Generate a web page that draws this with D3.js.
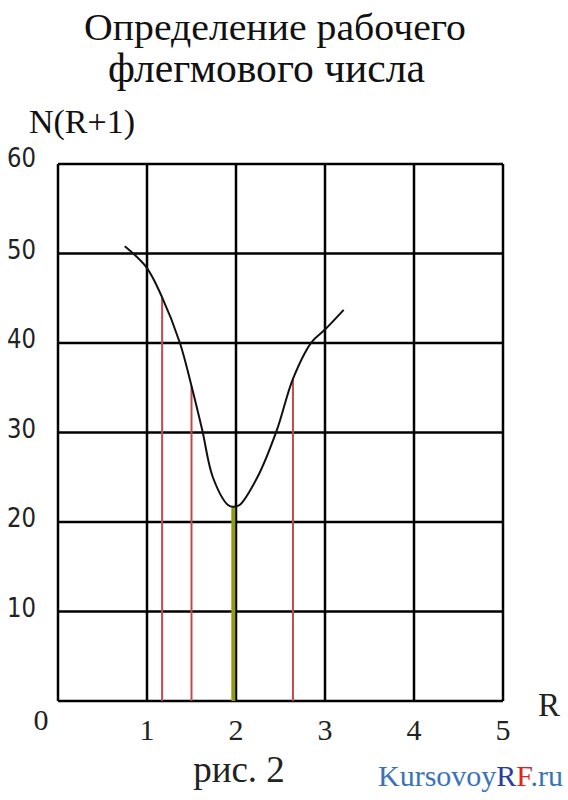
<!DOCTYPE html>
<html><head><meta charset="utf-8">
<script src="https://cdn.jsdelivr.net/npm/d3@7"></script>
<style>body{margin:0;background:#fff}svg{display:block}</style>
</head><body><svg id="c" width="568" height="800"></svg>
<script>
const curveR = [0.75, 0.99, 1.17, 1.37, 1.50, 1.62, 1.74, 1.91, 1.97, 2.04, 2.24, 2.46, 2.64, 2.85, 3.00, 3.21];
const curveN = [50.8, 48.5, 45.1, 40.0, 35.2, 30.3, 25.0, 21.9, 21.7, 21.9, 25.0, 30.3, 36.0, 40.1, 41.5, 43.7];
const redR = [1.17, 1.50, 2.64];
const redN = [45.1, 35.2, 36.0];
const optR = [1.97];
const optN = [21.8];
const xTicks = [0, 1, 2, 3, 4, 5];
const yTicks = [0, 10, 20, 30, 40, 50, 60];
const titleLines = ["Определение рабочего", "флегмового числа"];
const yLabel = "N(R+1)";
const xLabel = "R";
const caption = "рис. 2";
const watermarkParts = ["Kursovoy", "R", "F", ".ru"];

const svg = d3.select("#c");
const L = 58, R = 503, T = 164, B = 701;
const x = d3.scaleLinear().domain([0, 5]).range([L, R]);
const y = d3.scaleLinear().domain([0, 60]).range([B, T]);
const serif = "'Liberation Serif','Times New Roman',serif";

// title
svg.append("text").attr("x", 84).attr("y", 40).attr("font-family", serif).attr("font-size", 37)
  .attr("textLength", 382).attr("lengthAdjust", "spacingAndGlyphs").attr("fill", "#111").text(titleLines[0]);
svg.append("text").attr("x", 108).attr("y", 82).attr("font-family", serif).attr("font-size", 42)
  .attr("textLength", 317).attr("lengthAdjust", "spacingAndGlyphs").attr("fill", "#111").text(titleLines[1]);
svg.append("text").attr("x", 29).attr("y", 133).attr("font-family", serif).attr("font-size", 33)
  .attr("textLength", 106).attr("lengthAdjust", "spacingAndGlyphs").attr("fill", "#111").text(yLabel);

// grid
const g = svg.append("g");
g.selectAll("line.v").data(xTicks).join("line").attr("class", "v")
  .attr("x1", d => x(d)).attr("x2", d => x(d)).attr("y1", T).attr("y2", B)
  .attr("stroke", "#000").attr("stroke-width", 2.5);
g.selectAll("line.h").data(yTicks).join("line").attr("class", "h")
  .attr("x1", L).attr("x2", R).attr("y1", d => y(d)).attr("y2", d => y(d))
  .attr("stroke", "#000").attr("stroke-width", 2.5);

// vertical markers
g.selectAll("line.red").data(redR).join("line").attr("class", "red")
  .attr("x1", d => x(d)).attr("x2", d => x(d)).attr("y1", y(0)).attr("y2", (d, i) => y(redN[i]))
  .attr("stroke", "#c24a4a").attr("stroke-width", 2);
g.selectAll("line.opt").data(optR).join("line").attr("class", "opt")
  .attr("x1", d => x(d)).attr("x2", d => x(d)).attr("y1", y(0)).attr("y2", (d, i) => y(optN[i]))
  .attr("stroke", "#8f9c12").attr("stroke-width", 4);

// curve
const pts = curveR.map((r, i) => [r, curveN[i]]);
svg.append("path").attr("d", d3.line().x(d => x(d[0])).y(d => y(d[1])).curve(d3.curveCatmullRom)(pts))
  .attr("fill", "none").attr("stroke", "#111").attr("stroke-width", 2);

// y tick labels
svg.selectAll("text.yt").data(yTicks.filter(d => d > 0)).join("text").attr("class", "yt")
  .attr("x", 7).attr("y", d => d === 60 ? y(d) - 6.5 : y(d) - 4).attr("dy", "0.36em")
  .attr("font-family", "'DejaVu Sans',Verdana,sans-serif").attr("font-size", 26)
  .attr("textLength", 29).attr("lengthAdjust", "spacingAndGlyphs")
  .attr("fill", "#222").text(d => d);
svg.append("text").attr("x", 41).attr("y", 730).attr("text-anchor", "middle")
  .attr("font-family", serif).attr("font-size", 30).attr("fill", "#222").text(xTicks[0]);
// x tick labels
svg.selectAll("text.xt").data(xTicks.filter(d => d > 0)).join("text").attr("class", "xt")
  .attr("x", d => x(d)).attr("y", 740).attr("text-anchor", "middle")
  .attr("font-family", serif).attr("font-size", 30).attr("fill", "#222").text(d => d);
svg.append("text").attr("x", 549).attr("y", 716).attr("text-anchor", "middle")
  .attr("font-family", serif).attr("font-size", 33).attr("fill", "#222").text(xLabel);

// caption
svg.append("text").attr("x", 239).attr("y", 782).attr("text-anchor", "middle")
  .attr("font-family", serif).attr("font-size", 37).attr("fill", "#222").text(caption);

// watermark: one text element, multi-coloured via a hard-stop gradient
const wmC = ["#3a72b8", "#2a3d9e", "#e0231d", "#3a72b8"];
const wmX0 = 378;
const wm = svg.append("text").attr("x", wmX0).attr("y", 786).attr("font-family", serif).attr("font-size", 30)
  .text(watermarkParts.join(""));
const node = wm.node();
const total = node.getComputedTextLength();
const grad = svg.append("defs").append("linearGradient").attr("id", "wmg")
  .attr("gradientUnits", "userSpaceOnUse").attr("x1", wmX0).attr("x2", wmX0 + total).attr("y1", 0).attr("y2", 0);
let pos = 0;
watermarkParts.forEach((p, i) => {
  const start = pos / total;
  pos += node.getSubStringLength(watermarkParts.slice(0, i).join("").length, p.length);
  const end = pos / total;
  grad.append("stop").attr("offset", start).attr("stop-color", wmC[i]);
  grad.append("stop").attr("offset", end).attr("stop-color", wmC[i]);
});
wm.attr("fill", "url(#wmg)");
</script></body></html>
